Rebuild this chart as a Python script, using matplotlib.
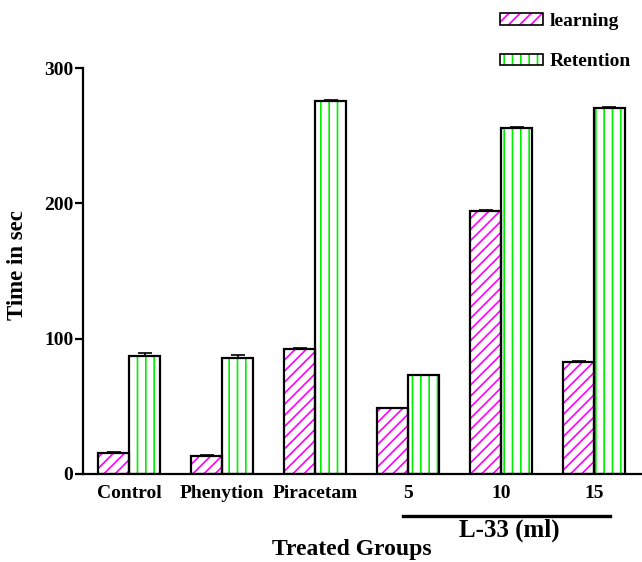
import matplotlib
matplotlib.use('Agg')
import matplotlib.pyplot as plt
import numpy as np
from matplotlib.patches import Patch
from matplotlib.lines import Line2D

plt.rcParams['font.family'] = 'Liberation Serif'
plt.rcParams['font.weight'] = 'bold'
plt.rcParams['hatch.linewidth'] = 1.2

# Mean latency per group (sec) and SEM
groups = ['Control', 'Phenytion', 'Piracetam', '5', '10', '15']
learning = [15.3, 13.6, 92.3, 48.5, 194.5, 82.8]
learning_err = [0.8, 0.8, 1.0, 0.5, 0.6, 0.5]
retention = [86.9, 85.4, 275.5, 73.0, 256.0, 270.5]
retention_err = [2.5, 2.5, 1.0, 0.5, 0.5, 0.6]

x = np.arange(len(groups))
w = 0.333

fig = plt.figure(figsize=(6.42, 5.62), dpi=100)
ax = fig.add_axes([0.1293, 0.1566, 0.8707, 0.7224])

# hatch drawn in its own colour, black outline on top
ax.bar(x - w / 2, learning, w, color='white', edgecolor='#ff00ff', hatch='///', linewidth=0, zorder=2)
ax.bar(x - w / 2, learning, w, color='none', edgecolor='black', linewidth=1.6, zorder=3)
ax.bar(x + w / 2, retention, w, color='white', edgecolor='#00ee00', hatch='||', linewidth=0, zorder=2)
ax.bar(x + w / 2, retention, w, color='none', edgecolor='black', linewidth=1.6, zorder=3)

ax.errorbar(x - w / 2, learning, yerr=[np.zeros(len(x)), learning_err], fmt='none',
            ecolor='black', elinewidth=1.2, capsize=5, capthick=1.2, zorder=4)
ax.errorbar(x + w / 2, retention, yerr=[np.zeros(len(x)), retention_err], fmt='none',
            ecolor='black', elinewidth=1.2, capsize=5, capthick=1.2, zorder=4)

ax.set_xlim(-0.495, 5.516)
ax.set_ylim(0, 300)
ax.set_yticks([0, 100, 200, 300])
ax.set_xticks(x)
ax.set_xticklabels(groups)
ax.tick_params(axis='x', length=0, pad=8, labelsize=14)
ax.tick_params(axis='y', length=6, width=1.6, pad=1, labelsize=14)
for s in ['top', 'right']:
    ax.spines[s].set_visible(False)
for s in ['left', 'bottom']:
    ax.spines[s].set_linewidth(1.6)

fig.text(0.028, 0.528, 'Time in sec', rotation=90, ha='center', va='center', fontsize=16.5)
fig.text(0.548, 0.023, 'Treated Groups', ha='center', va='center', fontsize=17)

# bracket under the L-33 doses
fig.add_artist(Line2D([403 / 642, 610 / 642], [1 - 516 / 562, 1 - 516 / 562],
                      color='black', linewidth=2.4))
fig.text(0.794, 0.057, 'L-33 (ml)', ha='center', va='center', fontsize=18)

h1 = (Patch(facecolor='white', edgecolor='#ff00ff', hatch='///', linewidth=0),
      Patch(facecolor='none', edgecolor='black', linewidth=1.2))
h2 = (Patch(facecolor='white', edgecolor='#00ee00', hatch='||', linewidth=0),
      Patch(facecolor='none', edgecolor='black', linewidth=1.2))
fig.legend([h1, h2], ['learning', 'Retention'], loc='upper left',
           bbox_to_anchor=(0.779, 0.977), frameon=False, fontsize=14,
           handlelength=2.2, handleheight=0.55, handletextpad=0.35,
           labelspacing=1.2, borderpad=0, borderaxespad=0)

fig.savefig('out.png', dpi=100)
